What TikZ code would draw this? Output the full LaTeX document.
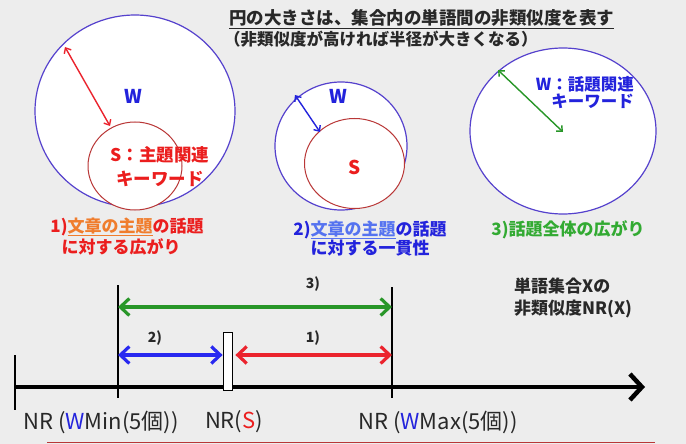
\documentclass[tikz,border=0pt]{standalone}
\usepackage{fontspec}
\setmainfont{Noto Sans CJK JP}
\usetikzlibrary{arrows.meta}
\definecolor{bg}{RGB}{237,237,237}
\definecolor{wblue}{RGB}{85,65,205}
\definecolor{sred}{RGB}{185,55,55}
\definecolor{ared}{RGB}{235,35,45}
\definecolor{agreen}{RGB}{40,150,40}
\definecolor{ablue}{RGB}{40,40,240}
\definecolor{tred}{RGB}{235,30,30}
\definecolor{torange}{RGB}{240,125,45}
\definecolor{tblue}{RGB}{35,35,220}
\definecolor{tlblue}{RGB}{85,115,240}
\definecolor{tgreen}{RGB}{50,170,50}
\definecolor{tgray}{RGB}{40,40,40}
\tikzset{
  wcirc/.style={draw=wblue,line width=1.2pt,fill=white},
  scirc/.style={draw=sred,line width=1pt,fill=white},
  thinarr/.style={line width=1.4pt,{Straight Barb[length=4.5pt,width=8pt]}-{Straight Barb[length=4.5pt,width=8pt]}},
  bigarr/.style={line width=3.2pt,{Straight Barb[length=9pt,width=17pt]}-{Straight Barb[length=9pt,width=17pt]}},
  tick/.style={line width=1.3pt,black},
  lab/.style={font=\fontsize{17}{20}\selectfont\bfseries,inner sep=0pt},
  small/.style={font=\fontsize{14}{16}\selectfont\bfseries,inner sep=0pt,text=tgray},
  nr/.style={font=\fontsize{22}{24}\selectfont,inner sep=0pt,text=tgray},
}
\begin{document}
\begin{tikzpicture}[x=1pt,y=-1pt]
\useasboundingbox (0,0) rectangle (686,444);
\fill[bg] (0,0) rectangle (686,444);
% title
\node[anchor=west,inner sep=0pt,text=tgray,font=\fontsize{17.5}{20}\selectfont\bfseries] (t1) at (229,19) {\underline{円の大きさは、集合内の単語間の非類似度を表す}};
\node[anchor=west,inner sep=0pt,text=tgray,font=\fontsize{16.5}{20}\selectfont\bfseries] (t2) at (224,39) {（非類似度が高ければ半径が大きくなる）};
% circle 1
\draw[wcirc] (135,111) ellipse [x radius=100pt, y radius=96pt];
\draw[scirc] (135,166) ellipse [x radius=47pt, y radius=44pt];
\coordinate (a1s) at (65,47);
\coordinate (a1e) at (110,126);
\draw[thinarr,ared] (a1s) -- (a1e);
\node[font=\fontsize{19}{20}\selectfont\bfseries,text=tblue] (w1) at (133,96) {W};
\node[font=\fontsize{17.5}{24}\selectfont\bfseries,text=tred,align=center,inner sep=0pt] (s1) at (160,167) {S：主題関連\\キーワード};
\node[lab,text=tred] (l1a) at (127,227) {1)\textcolor{torange}{\underline{文章の主題}}の話題};
\node[lab,text=tred] (l1b) at (121,247) {に対する広がり};
% circle 2
\draw[wcirc] (341,146) ellipse [x radius=66pt, y radius=64pt];
\draw[scirc] (354.5,163.5) ellipse [x radius=50pt, y radius=45pt];
\coordinate (a2s) at (295,95);
\coordinate (a2e) at (320,132);
\draw[thinarr,tblue] (a2s) -- (a2e);
\node[font=\fontsize{19}{20}\selectfont\bfseries,text=tblue] (w2) at (338,96) {W};
\node[font=\fontsize{19}{20}\selectfont\bfseries,text=tred] (s2) at (355,167) {S};
\node[lab,text=tblue] (l2a) at (370,230) {2)\textcolor{tlblue}{\underline{文章の主題}}の話題};
\node[lab,text=tblue] (l2b) at (370,248) {に対する一貫性};
% circle 3
\draw[wcirc] (563,131) ellipse [x radius=93pt, y radius=83pt];
\coordinate (a3s) at (498,70);
\coordinate (a3e) at (563,132);
\draw[thinarr,agreen] (a3s) -- (a3e);
\node[font=\fontsize{16.5}{17}\selectfont\bfseries,text=tblue,align=right,inner sep=0pt,anchor=east] (w3) at (634,93) {W：話題関連\\キーワード};
\node[lab,text=tgreen] (l3) at (568,230) {3)話題全体の広がり};
% axis
\coordinate (ax0) at (15,387);
\coordinate (ax1) at (645,387);
\draw[line width=4.5pt,-{Straight Barb[length=12pt,width=26pt]}] (ax0) -- (ax1);
\coordinate (tk0a) at (15,355); \coordinate (tk0b) at (15,410);
\draw[tick] (tk0a) -- (tk0b);
\coordinate (tkmina) at (118,285); \coordinate (tkminb) at (118,398);
\draw[tick] (tkmina) -- (tkminb);
\coordinate (tkmaxa) at (392,287); \coordinate (tkmaxb) at (392,398);
\draw[tick] (tkmaxa) -- (tkmaxb);
% arrows
\coordinate (g0) at (118,307); \coordinate (g1) at (392,307);
\draw[bigarr,agreen] (g0) -- (g1);
\node[small] (n3) at (313,284) {3)};
\node[draw=black,line width=0.8pt,fill=white,minimum width=9pt,minimum height=58pt,inner sep=0pt] (sbar) at (227.5,361) {};
\coordinate (b0) at (118,355);
\draw[bigarr,ablue] (b0) -- (sbar.west |- b0);
\node[small] (n2) at (155,338) {2)};
\coordinate (r1) at (392,355);
\draw[bigarr,ared] ([xshift=3pt]sbar.east |- r1) -- (r1);
\node[small] (n1) at (313,338) {1)};
% labels
\node[nr] (nrmin) at (101,422) {NR (\textcolor{tblue}{W}Min(5個))};
\node[nr] (nrs) at (234,422) {NR(\textcolor{tred}{S})};
\node[nr] (nrmax) at (438,422) {NR (\textcolor{tblue}{W}Max(5個))};
\node[inner sep=0pt,text=tgray,font=\fontsize{17}{22}\selectfont\bfseries,align=left,anchor=north west] (xs) at (514,278) {単語集合Xの\\非類似度NR(X)};
\coordinate (ul0) at (47,442); \coordinate (ul1) at (655,442);
\draw[sred,line width=1pt] (ul0) -- (ul1);
\end{tikzpicture}
\end{document}
